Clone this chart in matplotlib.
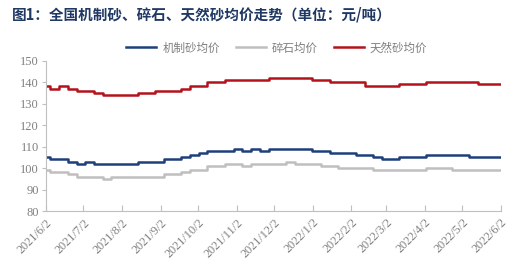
import matplotlib
matplotlib.use("Agg")
import matplotlib.pyplot as plt
import numpy as np
import pandas as pd

plt.rcParams['font.family'] = ['Noto Sans CJK SC', 'DejaVu Sans']

title = "图1：全国机制砂、碎石、天然砂均价走势（单位：元/吨）"
series_names = ["机制砂均价", "碎石均价", "天然砂均价"]

dates = pd.date_range("2021-06-02", periods=53, freq="7D")

machine_sand = [105, 104, 104, 103, 102, 103, 102, 102, 102, 102,
                102, 103, 103, 103, 104, 104, 105, 106, 107, 108,
                108, 108, 109, 108, 109, 108, 109, 109, 109, 109,
                109, 108, 108, 107, 107, 107, 106, 106, 105, 104,
                104, 105, 105, 105, 106, 106, 106, 106, 106, 105,
                105, 105, 105]
gravel = [99, 98, 98, 97, 96, 96, 96, 95, 96, 96,
          96, 96, 96, 96, 97, 97, 98, 99, 99, 101,
          101, 102, 102, 101, 102, 102, 102, 102, 103, 102,
          102, 102, 101, 101, 100, 100, 100, 100, 99, 99,
          99, 99, 99, 99, 100, 100, 100, 99, 99, 99,
          99, 99, 99]
natural_sand = [138, 137, 138, 137, 136, 136, 135, 134, 134, 134,
                134, 135, 135, 136, 136, 136, 137, 138, 138, 140,
                140, 141, 141, 141, 141, 141, 142, 142, 142, 142,
                142, 141, 141, 140, 140, 140, 140, 138, 138, 138,
                138, 139, 139, 139, 140, 140, 140, 140, 140, 140,
                139, 139, 139]

tick_dates = pd.date_range("2021-06-01", "2022-06-01", freq="MS") + pd.Timedelta(days=1)
tick_labels = [f"{d.year}/{d.month}/{d.day}" for d in tick_dates]
y_ticks = [80, 90, 100, 110, 120, 130, 140, 150]

colors = ["#1f3f7a", "#bfbfbf", "#b3121b"]

fig = plt.figure(figsize=(5.25, 2.71), dpi=100)
ax = fig.add_axes([0.0876, 0.2214, 0.8667, 0.5546])

for vals, name, c in zip([machine_sand, gravel, natural_sand], series_names, colors):
    ax.plot(dates, vals, color=c, lw=1.8, label=name, drawstyle="steps-mid")

ax.set_xlim(pd.Timestamp("2021-06-02"), pd.Timestamp("2022-06-02"))
ax.set_ylim(80, 150)
ax.set_yticks(y_ticks)
ax.set_yticklabels([str(v) for v in y_ticks], family=["Liberation Serif"], fontsize=9, color="#808080")
ax.set_xticks(tick_dates)
ax.set_xticklabels(tick_labels, rotation=45, ha="right", rotation_mode="anchor",
                   family=["Liberation Serif"], fontsize=8.8, color="#808080")

for s in ["top", "right"]:
    ax.spines[s].set_visible(False)
for s in ["left", "bottom"]:
    ax.spines[s].set_color("#bfbfbf")
    ax.spines[s].set_linewidth(0.8)
ax.tick_params(axis="y", direction="out", length=3, color="#bfbfbf", pad=2)
ax.tick_params(axis="x", direction="in", length=4, color="#bfbfbf", pad=4)

fig.legend(loc="center", bbox_to_anchor=(0.527, 0.823), ncol=3, frameon=False,
           handlelength=2.6, columnspacing=1.4, handletextpad=0.5,
           prop={"family": ["Noto Sans CJK SC"], "size": 8.3}, labelcolor="#7f7f7f")

fig.text(0.023, 0.945, title, fontsize=10.5, fontweight="bold", color="#1f3864",
         va="center", ha="left")

fig.savefig("out.png", dpi=100)
